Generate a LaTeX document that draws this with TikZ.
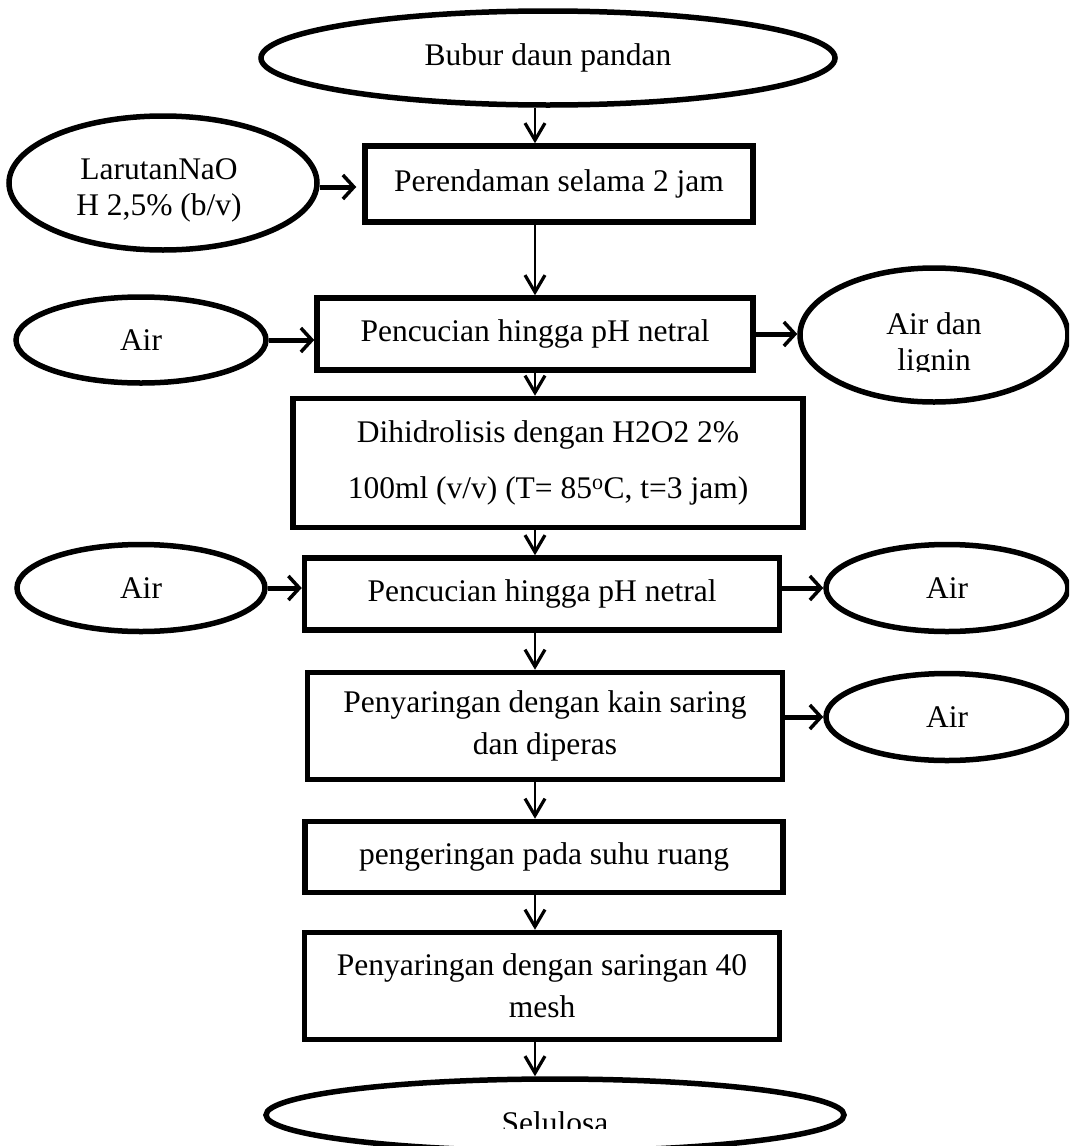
\documentclass[tikz,border=0pt]{standalone}
\usepackage{fontspec}
\setmainfont{Liberation Serif}
\usetikzlibrary{shapes.geometric,arrows.meta}
\begin{document}
\begin{tikzpicture}[x=1pt,y=-1pt,
  txt/.style={font=\fontsize{31.5pt}{36pt}\selectfont, align=center, inner sep=0pt},
  proc/.style={draw, line width=5.5pt, rectangle, txt},
  term/.style={draw, line width=5.5pt, ellipse, txt},
  varrow/.style={line width=2.8pt, -{Straight Barb[length=17pt,width=20pt,line width=3.2pt]}},
  harrow/.style={line width=5pt, -{Straight Barb[length=11pt,width=24pt,line width=3.5pt]}}]
\useasboundingbox (0,0) rectangle (1069,1146);
\clip (0,0) rectangle (1069,1146);

\node[term, minimum width=574pt, minimum height=94pt] (e0) at (548,58) {Bubur daun pandan};
\node[proc, minimum width=388pt, minimum height=76pt] (b1) at (559,184) {Perendaman selama 2 jam};
\node[term, minimum width=308pt, minimum height=134pt] (L1) at (163,183) {};
\node[txt] (L1t) at (159,190) {LarutanNaO\\H 2,5\% (b/v)};
\node[proc, minimum width=436pt, minimum height=72pt] (b2) at (535,334) {Pencucian hingga pH netral};
\node[term, minimum width=250pt, minimum height=86pt] (A1) at (141,340) {Air};
\node[term, minimum width=268pt, minimum height=134pt] (R1) at (934,335) {};
\begin{scope}
  \clip (800,268) rectangle (1069,371);
  \node[txt] (R1t) at (934,345) {Air dan\\lignin};
\end{scope}
\node[proc, minimum width=510pt, minimum height=129pt, font=\fontsize{31.5pt}{56pt}\selectfont] (b3) at (548,463)
  {Dihidrolisis dengan H2O2 2\%\\100ml (v/v) (T= 85\textsuperscript{o}C, t=3 jam)};
\node[proc, minimum width=475pt, minimum height=72pt] (b4) at (542,594) {Pencucian hingga pH netral};
\node[term, minimum width=248pt, minimum height=87pt] (A2) at (141,588) {Air};
\node[term, minimum width=242pt, minimum height=87pt] (A3) at (947,588) {Air};
\node[proc, minimum width=475pt, minimum height=107pt, font=\fontsize{31.5pt}{42pt}\selectfont] (b5) at (545,726)
  {Penyaringan dengan kain saring\\dan diperas};
\node[term, minimum width=242pt, minimum height=87pt] (A4) at (947,717) {Air};
\node[proc, minimum width=478pt, minimum height=71pt] (b6) at (544,857) {pengeringan pada suhu ruang};
\node[proc, minimum width=475pt, minimum height=107pt, font=\fontsize{31.5pt}{42pt}\selectfont] (b7) at (542,986)
  {Penyaringan dengan saringan 40\\mesh};
\node[term, minimum width=578pt, minimum height=72pt] (e1) at (555,1115) {};
\begin{scope}
  \clip (0,0) rectangle (1069,1128);
  \node[txt, anchor=base] (e1t) at ([yshift=-18pt]e1.center) {Selulosa};
\end{scope}

\coordinate (ax) at (535,0);
\draw[varrow] (e0.south -| ax) -- (b1.north -| ax);
\draw[varrow] (b1.south -| ax) -- (b2.north -| ax);
\draw[varrow] (b2.south -| ax) -- (b3.north -| ax);
\draw[varrow] (b3.south -| ax) -- (b4.north -| ax);
\draw[varrow] (b4.south -| ax) -- (b5.north -| ax);
\draw[varrow] (b5.south -| ax) -- (b6.north -| ax);
\draw[varrow] (b6.south -| ax) -- (b7.north -| ax);
\draw[varrow] (b7.south -| ax) -- (e1.north -| ax);

\draw[harrow, shorten >=6pt] ([yshift=-4pt]L1.east) -- ([yshift=-4pt]L1.east -| b1.west);
\draw[harrow] (A1.east) -- (A1.east -| b2.west);
\draw[harrow] (b2.east) -- (b2.east -| R1.west);
\draw[harrow] (A2.east) -- (A2.east -| b4.west);
\draw[harrow] (A3.west -| b4.east) -- (A3.west);
\draw[harrow] (A4.west -| b5.east) -- (A4.west);
\end{tikzpicture}
\end{document}
